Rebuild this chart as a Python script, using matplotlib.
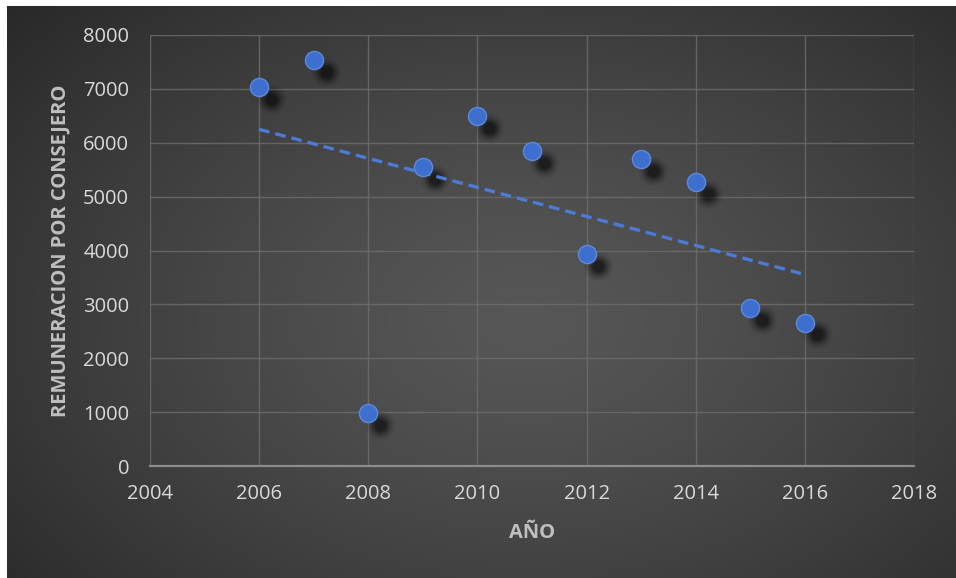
import numpy as np
import matplotlib
matplotlib.use('Agg')
import matplotlib.pyplot as plt
from matplotlib import transforms
from matplotlib.patches import Rectangle

plt.rcParams['font.family'] = ['Open Sans', 'DejaVu Sans']

# remuneracion por consejero, 2006-2016
anios = [2006, 2007, 2008, 2009, 2010, 2011, 2012, 2013, 2014, 2015, 2016]
remuneracion = [7030, 7530, 980, 5550, 6500, 5840, 3930, 5700, 5270, 2930, 2660]

x_ticks = [2004, 2006, 2008, 2010, 2012, 2014, 2016, 2018]
y_ticks = [0, 1000, 2000, 3000, 4000, 5000, 6000, 7000, 8000]

W, H = 956, 578
fig = plt.figure(figsize=(W / 100, H / 100), dpi=100, facecolor='#2a2a2a')

# dark panel with a radial gradient, filling the whole figure
bg = fig.add_axes([0, 0, 1, 1])
bg.set_axis_off()
gy, gx = np.mgrid[0:1:300j, 0:1:500j]
r = np.sqrt(((gx - 0.55) / 0.75) ** 2 + ((gy - 0.45) / 0.85) ** 2)
shade = np.clip(0.34 - 0.19 * r ** 1.3, 0.15, 0.34)
bg.imshow(np.dstack([shade] * 3), aspect='auto', extent=[0, 1, 0, 1],
          interpolation='bilinear', origin='lower')
bg.set_xlim(0, 1)
bg.set_ylim(0, 1)

# thin white strips on the left and top edges
fig.patches.append(Rectangle((0, 0), 7 / W, 1, transform=fig.transFigure,
                             facecolor='white', edgecolor='none', zorder=5))
fig.patches.append(Rectangle((0, 1 - 6 / H), 1, 6 / H, transform=fig.transFigure,
                             facecolor='white', edgecolor='none', zorder=5))

ax = fig.add_axes([150 / W, 1 - 466 / H, 764 / W, 431 / H])
ax.patch.set_alpha(0)
ax.set_xlim(2004, 2018)
ax.set_ylim(0, 8000)
ax.set_xticks(x_ticks)
ax.set_yticks(y_ticks)
ax.grid(True, color='#6e6e6e', linewidth=1, alpha=0.8)
ax.set_axisbelow(True)
for side in ['top', 'right', 'left']:
    ax.spines[side].set_visible(False)
ax.spines['bottom'].set_color('#8c8c8c')
ax.spines['bottom'].set_linewidth(1.6)
ax.tick_params(length=0, labelsize=14.5, labelcolor='#d9d9d9')
ax.tick_params(axis='y', pad=15)
ax.tick_params(axis='x', pad=13)

# soft drop shadows under the markers
shadow_tr = transforms.offset_copy(ax.transData, fig=fig, x=8.5, y=-8.5, units='points')
for s, a in [(460, 0.035), (370, 0.05), (290, 0.07), (220, 0.1), (165, 0.14), (115, 0.18), (65, 0.22)]:
    ax.scatter(anios, remuneracion, s=s, color='black', alpha=a, linewidths=0,
               transform=shadow_tr, zorder=2)

ax.scatter(anios, remuneracion, s=170, facecolor='#3e6fcf', edgecolor='#5b8ae0',
           linewidths=1, zorder=4)

# linear trend line
m, b = np.polyfit(anios, remuneracion, 1)
xt = np.array([anios[0], anios[-1]])
ax.plot(xt, m * xt + b, color='#4a7bd6', linewidth=2.4, dashes=(3.2, 1.8), zorder=3)

ax.set_xlabel('AÑO', fontsize=14.5, fontweight='bold', color='#bfbfbf', labelpad=14)
ax.set_ylabel('REMUNERACION POR CONSEJERO', fontsize=14.5, fontweight='bold',
              color='#bfbfbf', labelpad=9)

fig.savefig('out.png', dpi=100, facecolor=fig.get_facecolor())
